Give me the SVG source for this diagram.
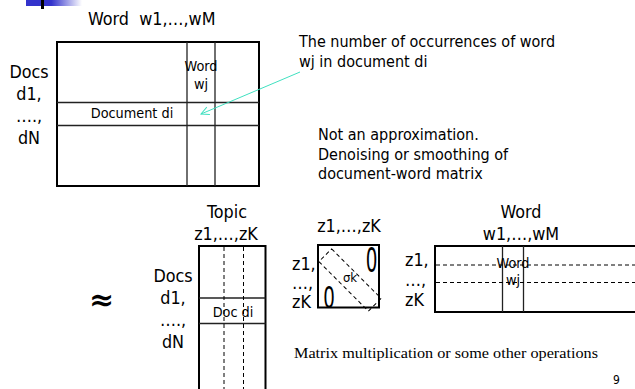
<svg xmlns="http://www.w3.org/2000/svg" width="635" height="389" viewBox="0 0 635 389">
<style>
text{font-family:"DejaVu Sans Condensed","DejaVu Sans",sans-serif;fill:#000}
.t18{font-size:17.8px}
.t16{font-size:16px}
.t14{font-size:14.3px}
.t13{font-size:13px}
.serif{font-family:"Liberation Serif","Times New Roman",serif;font-size:14px}
.box{fill:none;stroke:#000;stroke-width:2}
.ln{fill:none;stroke:#222;stroke-width:1.3}
.dash{fill:none;stroke:#000;stroke-width:1;stroke-dasharray:4 3}
.mid{text-anchor:middle}
</style>
<defs>
<linearGradient id="g" x1="0" x2="1" y1="0" y2="0">
<stop offset="0" stop-color="#3333cc"/>
<stop offset="0.45" stop-color="#3333cc"/>
<stop offset="1" stop-color="#3333cc" stop-opacity="0"/>
</linearGradient>
<marker id="ah" markerWidth="10" markerHeight="10" refX="9" refY="5" orient="auto" markerUnits="userSpaceOnUse">
<path d="M1,1 L9,5 L1,9" fill="none" stroke="#40e0c0" stroke-width="1"/>
</marker>
</defs>
<g id="logo">
<rect x="26" y="0" width="56" height="6" fill="url(#g)"/>
<rect x="41" y="0" width="3" height="9" fill="#000"/>
</g>
<g id="matrix-top">
<text class="t18" x="88" y="25" xml:space="preserve">Word  w1,…,wM</text>
<text class="t18 mid" x="29" y="78">Docs</text>
<text class="t18 mid" x="29" y="100">d1,</text>
<text class="t18 mid" x="29" y="122">….,</text>
<text class="t18 mid" x="29" y="144">dN</text>
<rect class="box" x="57" y="42" width="202" height="144"/>
<line class="ln" x1="187" y1="42" x2="187" y2="186"/>
<line class="ln" x1="215" y1="42" x2="215" y2="186"/>
<line class="ln" x1="57" y1="102.5" x2="259" y2="102.5"/>
<line class="ln" x1="57" y1="125.5" x2="259" y2="125.5"/>
<text class="t14 mid" x="201" y="71">Word</text>
<text class="t14 mid" x="201" y="89">wj</text>
<text class="t14 mid" x="132" y="118">Document di</text>
</g>
<g id="note-count">
<text class="t16" x="299" y="47">The number of occurrences of word</text>
<text class="t16" x="299" y="67">wj in document di</text>
</g>
<g id="note-approx">
<text class="t16" x="318" y="140">Not an approximation.</text>
<text class="t16" x="318" y="159.5">Denoising or smoothing of</text>
<text class="t16" x="318" y="179">document-word matrix</text>
</g>
<g id="connectors">
<line x1="300" y1="72" x2="201" y2="114" stroke="#40e0c0" stroke-width="1" marker-end="url(#ah)"/>
</g>
<g id="approx">
<text x="101.5" y="310" style="font-family:'DejaVu Serif',serif;font-size:30px;font-weight:bold" text-anchor="middle">≈</text>
</g>
<g id="matrix-doc-topic">
<text class="t18 mid" x="227" y="218">Topic</text>
<text class="t18 mid" x="226" y="240">z1,…,zK</text>
<text class="t18 mid" x="173" y="282">Docs</text>
<text class="t18 mid" x="173" y="304">d1,</text>
<text class="t18 mid" x="173" y="326">….,</text>
<text class="t18 mid" x="173" y="348">dN</text>
<path class="box" d="M199,395 V246 H265.5 V395"/>
<line class="ln" x1="199" y1="298" x2="265.5" y2="298"/>
<line class="ln" x1="199" y1="323.5" x2="265.5" y2="323.5"/>
<line class="dash" x1="224" y1="247" x2="224" y2="389"/>
<line class="dash" x1="243.5" y1="247" x2="243.5" y2="389"/>
<text class="t14 mid" x="233" y="316.5">Doc di</text>
</g>
<g id="matrix-sigma">
<text class="t18 mid" x="349" y="232">z1,…,zK</text>
<text class="t18" x="292" y="270">z1,</text>
<text class="t18" x="292" y="289">…,</text>
<text class="t18" x="292" y="307.5">zK</text>
<rect class="box" x="318" y="245" width="61" height="62.5"/>
<text transform="translate(371.5,271.5) scale(0.68,1.15)" style="font-size:30px" text-anchor="middle">0</text>
<text transform="translate(329,308) scale(0.78,1.15)" style="font-size:26px" text-anchor="middle">0</text>
<rect class="dash" x="315" y="271" width="70" height="18" transform="rotate(45 350 280)" stroke-dasharray="3 2"/>
<text class="t13 mid" x="350" y="282">σk</text>
</g>
<g id="matrix-topic-word">
<text class="t18 mid" x="521" y="218">Word</text>
<text class="t18 mid" x="521" y="240">w1,…,wM</text>
<text class="t18" x="405" y="266">z1,</text>
<text class="t18" x="405" y="286">…,</text>
<text class="t18" x="405" y="306">zK</text>
<path class="box" d="M640,246 H435 V312 H640"/>
<line class="ln" x1="502.5" y1="246" x2="502.5" y2="312"/>
<line class="ln" x1="523.5" y1="246" x2="523.5" y2="312"/>
<line class="dash" x1="436" y1="265" x2="635" y2="265"/>
<line class="dash" x1="436" y1="282.5" x2="635" y2="282.5"/>
<text class="t14 mid" x="513" y="268">Word</text>
<text class="t14 mid" x="513" y="284.5">wj</text>
</g>
<g id="caption">
<text class="serif" x="294" y="358" textLength="304" lengthAdjust="spacingAndGlyphs">Matrix multiplication or some other operations</text>
<text x="613" y="384" style="font-size:12px">9</text>
</g>
</svg>
